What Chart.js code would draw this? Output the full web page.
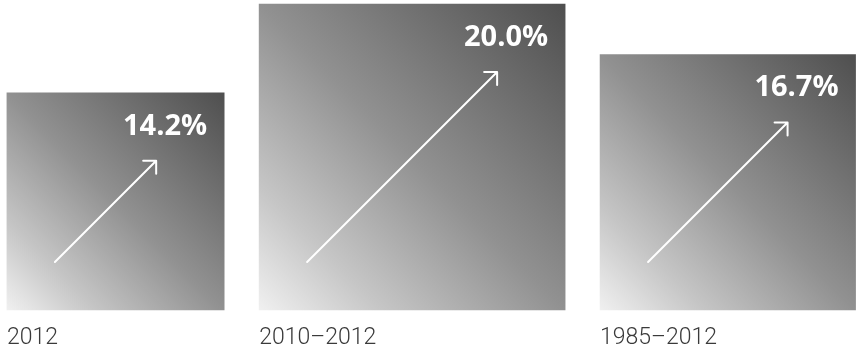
<!DOCTYPE html>
<html>
<head>
<meta charset="utf-8">
<script src="https://cdn.jsdelivr.net/npm/chart.js@4.4.0/dist/chart.umd.min.js"></script>
<style>
  html, body { margin: 0; padding: 0; background: #fff; }
  #wrap { width: 857px; height: 351px; }
</style>
</head>
<body>
<div id="wrap"><canvas id="c"></canvas></div>
<script>
// Growth over each period, one square per period
const periods = ['2012', '2010–2012', '1985–2012'];
const growth = [14.2, 20.0, 16.7];

const GAP = 2.3; // space between neighbouring squares, in value units

// Squares are packed left to right: each centre follows from the widths before it
const centres = [];
let run = 0;
growth.forEach(v => { centres.push(run + v / 2); run += v + GAP; });

// Side of a square in pixels, taken from the value scale so width equals height
function sidePx(chart, v) {
  const y = chart.scales && chart.scales.y;
  if (!y) return 10;
  const s = y.getPixelForValue(0) - y.getPixelForValue(v);
  return isFinite(s) && s > 0 ? s : 10;
}

function squareFill(ctx) {
  const chart = ctx.chart;
  const x = chart.scales.x, y = chart.scales.y;
  if (!x || !y) return '#999';
  const i = ctx.datasetIndex;
  const side = sidePx(chart, growth[i]);
  const cx = x.getPixelForValue(centres[i]);
  const bottom = y.getPixelForValue(0);
  const left = cx - side / 2, right = cx + side / 2, top = bottom - side;
  if (![left, right, top, bottom].every(isFinite)) return '#999';
  const g = chart.ctx.createLinearGradient(left, bottom, right, top);
  g.addColorStop(0, '#f0f0f0');
  g.addColorStop(0.2, '#c6c6c6');
  g.addColorStop(0.5, '#919191');
  g.addColorStop(1, '#4f4f4f');
  return g;
}

// Arrow, value and period caption for each square
const decor = {
  id: 'decor',
  afterDatasetsDraw(chart) {
    const c = chart.ctx;
    growth.forEach((v, i) => {
      const el = chart.getDatasetMeta(i).data[0];
      if (!el) return;
      const left = el.x - el.width / 2, right = el.x + el.width / 2;
      const top = Math.min(el.y, el.base), bottom = Math.max(el.y, el.base);

      c.save();
      // rising arrow
      const x0 = left + 48, y0 = bottom - 48, x1 = right - 68, y1 = top + 68;
      const ang = Math.atan2(y1 - y0, x1 - x0);
      const h = 13;
      c.strokeStyle = '#ffffff';
      c.lineWidth = 2;
      c.lineCap = 'round';
      c.lineJoin = 'round';
      c.beginPath();
      c.moveTo(x0, y0);
      c.lineTo(x1, y1);
      c.moveTo(x1 - h * Math.cos(ang - Math.PI / 4), y1 - h * Math.sin(ang - Math.PI / 4));
      c.lineTo(x1, y1);
      c.lineTo(x1 - h * Math.cos(ang + Math.PI / 4), y1 - h * Math.sin(ang + Math.PI / 4));
      c.stroke();

      // value
      c.fillStyle = '#ffffff';
      c.font = '700 29px "Open Sans"';
      c.textAlign = 'right';
      c.textBaseline = 'alphabetic';
      c.fillText(v.toFixed(1) + '%', right - 17, top + 42);

      // period caption
      c.fillStyle = '#3a3a3a';
      c.font = '300 23px Roboto';
      c.textAlign = 'left';
      c.fillText(periods[i], left, bottom + 34);
      c.restore();
    });
  }
};

new Chart(document.getElementById('c'), {
  type: 'bar',
  data: {
    datasets: growth.map((v, i) => ({
      label: periods[i],
      data: [{ x: centres[i], y: v }],
      grouped: false,
      clip: false,
      borderWidth: 0,
      barThickness: ctx => sidePx(ctx.chart, v),
      backgroundColor: squareFill
    }))
  },
  options: {
    responsive: true,
    maintainAspectRatio: false,
    animation: false,
    events: [],
    layout: { padding: { left: 7, right: 0, top: 4, bottom: 41 } },
    scales: {
      x: { type: 'linear', min: 0, max: 55.6, offset: false, display: false },
      y: { min: 0, max: 20, display: false }
    },
    plugins: {
      legend: { display: false },
      tooltip: { enabled: false }
    }
  },
  plugins: [decor]
});
</script>
</body>
</html>
